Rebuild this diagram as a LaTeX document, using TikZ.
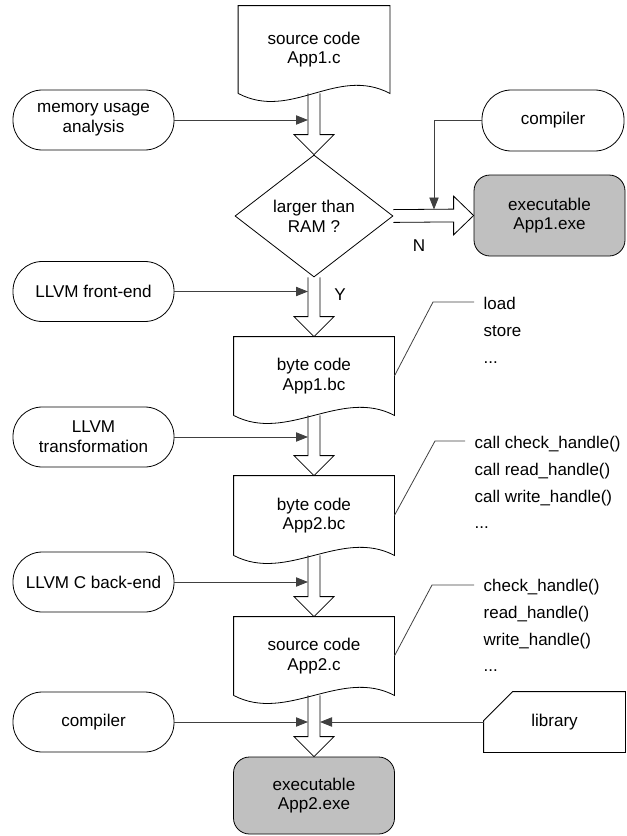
\documentclass[tikz,border=0pt]{standalone}
\usepackage{fontspec}
\setmainfont{Liberation Sans}
\usetikzlibrary{arrows.meta,calc,shapes.geometric}

\definecolor{exegray}{RGB}{192,192,192}

\tikzset{
  terminal/.style={draw, rounded corners=22pt, minimum width=120.75pt, minimum height=45pt, align=center},
  docnode/.style={minimum width=120pt, minimum height=58.5pt, align=center},
  exenode/.style={draw, fill=exegray, rounded corners=12pt, align=center},
  decision/.style={draw, diamond, aspect=1.3, inner sep=0pt, minimum width=118.5pt, minimum height=91.5pt, align=center},
  feed/.style={draw=black!75, -{Triangle[length=9pt,width=7pt]}},
  note/.style={draw=black!75},
  notetext/.style={align=left, inner xsep=7pt, inner ysep=0pt, anchor=north west, font=\fontsize{12.7}{20}\selectfont},
}

% document outline with wavy bottom
\newcommand\docoutline[1]{%
  \draw (#1.south west) -- (#1.north west) -- (#1.north east) -- (#1.south east)
    .. controls ($(#1.south east)+(-40pt,21pt)$) and ($(#1.south west)+(40pt,-21pt)$) .. (#1.south west);}
% hollow block arrows
\newcommand\blockdown[2]{%
  \draw ($(#2 |- #1)+(-4.5pt,0)$) -- ($(#2)+(-4.5pt,15pt)$) -- ($(#2)+(-15pt,15pt)$) -- (#2)
    -- ($(#2)+(15pt,15pt)$) -- ($(#2)+(4.5pt,15pt)$) -- ($(#2 |- #1)+(4.5pt,0)$);}
\newcommand\blockright[2]{%
  \draw ($(#1)+(0,4.8pt)$) -- ($(#2)+(-15pt,4.8pt)$) -- ($(#2)+(-15pt,14.5pt)$) -- (#2)
    -- ($(#2)+(-15pt,-14.5pt)$) -- ($(#2)+(-15pt,-4.8pt)$) -- ($(#1)+(0,-4.8pt)$);}

\begin{document}
\begin{tikzpicture}[x=0.75pt,y=-0.75pt,line width=0.6pt,font=\fontsize{12.8}{14.8}\selectfont]
\useasboundingbox (0,0) rectangle (626,836);

% main column
\node[docnode, minimum width=113.25pt, minimum height=65.25pt] (src1) at (314,49.5) {source code\\App1.c};
\node[decision] (dec) at (314,216) {larger than\\RAM ?};
\node[docnode] (bc1) at (314,376) {byte code\\App1.bc};
\node[docnode, minimum height=59.25pt] (bc2) at (314,515.5) {byte code\\App2.bc};
\node[docnode] (src2) at (314,656) {source code\\App2.c};
\node[exenode, minimum width=120.75pt, minimum height=57.75pt] (exe2) at (314,795.5) {executable\\App2.exe};
\node[exenode, minimum width=113.25pt, minimum height=60.75pt] (exe1) at (549.5,215.5) {executable\\App1.exe};

% tools on the left
\node[terminal] (mem) at (93.5,120) {memory usage\\analysis};
\node[terminal] (fe) at (93.5,291.5) {LLVM front-end};
\node[terminal] (tr) at (93.5,437) {LLVM\\transformation};
\node[terminal] (cb) at (93.5,582) {LLVM C back-end};
\node[terminal] (cc2) at (93.5,722) {compiler};

% right side
\node[terminal, minimum width=106.5pt, minimum height=45.75pt] (cc1) at (553,120.5) {compiler};
\node[minimum width=105.75pt, minimum height=45pt] (lib) at (554.5,722) {library};
\draw ($(lib.north west)+(0,-21.75pt)$) -- ($(lib.north west)+(21.75pt,0)$) -- (lib.north east)
  -- (lib.south east) -- (lib.south west) -- cycle;

\docoutline{src1}
\docoutline{bc1}
\docoutline{bc2}
\docoutline{src2}

% flow
\blockdown{src1.south}{dec.north}
\blockdown{dec.south}{bc1.north}
\blockdown{bc1.south}{bc2.north}
\blockdown{bc2.south}{src2.north}
\blockdown{src2.south}{exe2.north}
\blockright{dec.east}{exe1.west}

\node (nlab) at (419,246) {N};
\node (ylab) at (340,295) {Y};

% inputs
\coordinate (memin) at (308,120);
\coordinate (fein) at (308,291.5);
\coordinate (trin) at (308,437);
\coordinate (cbin) at (308,582);
\coordinate (ccin) at (308,722);
\coordinate (libin) at (320,722);
\coordinate (cc1in) at (434,209.5);
\draw[feed] (mem) -- (memin);
\draw[feed] (fe) -- (fein);
\draw[feed] (tr) -- (trin);
\draw[feed] (cb) -- (cbin);
\draw[feed] (cc2) -- (ccin);
\draw[feed] (lib) -- (libin);
\draw[feed] (cc1) -| (cc1in);

% notes
\node[notetext] (n1) at (474,297) {load\\store\\...};
\node[notetext] (n2) at (465,436) {call check\_handle()\\call read\_handle()\\call write\_handle()\\...};
\node[notetext] (n3) at (474,579) {check\_handle()\\read\_handle()\\write\_handle()\\...};
\coordinate (k1) at (433,302);
\coordinate (k2) at (435,441);
\coordinate (k3) at (432,585);
\draw[note] (bc1.east) -- (k1) -- (k1 -| n1.west);
\draw[note] (bc2.east) -- (k2) -- (k2 -| n2.west);
\draw[note] (src2.east) -- (k3) -- (k3 -| n3.west);
\end{tikzpicture}
\end{document}
